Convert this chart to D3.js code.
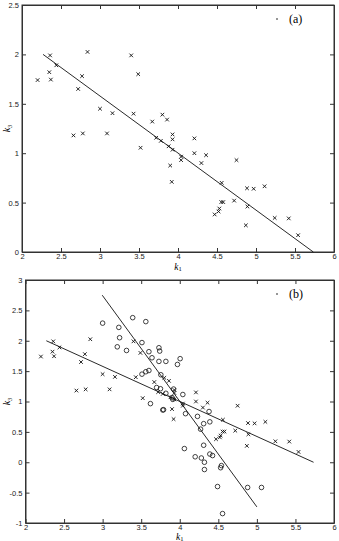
<!DOCTYPE html>
<html>
<head>
<meta charset="utf-8">
<script src="https://cdn.jsdelivr.net/npm/d3@7"></script>
<style>
  body { margin: 0; background: #fff; }
  svg { display: block; }
  .tick text { font-family: "Liberation Sans", Arial, sans-serif; font-size: 7.5px; fill: #222; }
  .lbl { font-family: "Liberation Serif", "DejaVu Serif", serif; font-style: italic; }
  .legend { font-family: "Liberation Serif", "DejaVu Serif", serif; font-size: 12px; }
</style>
</head>
<body>
<div id="chart"></div>
<script>
// crosses: same points appear in both panels
const crossK1 = [2.20, 2.36, 2.35, 2.37, 2.44, 2.77, 2.72, 2.84, 3.40, 3.49,
  3.00, 3.16, 3.43, 3.67, 3.80, 3.86, 2.66, 2.78, 3.09, 3.72,
  3.93, 4.21, 3.52, 3.78, 3.93, 3.88, 3.93, 4.04, 4.04, 4.21,
  4.36, 4.30, 3.90, 3.92, 4.75, 4.56, 4.885, 4.97, 5.11, 4.555,
  4.58, 4.72, 4.89, 4.53, 4.52, 4.47, 4.87, 5.24, 5.42, 5.54];
const crossK3 = [1.74, 1.99, 1.82, 1.745, 1.89, 1.78, 1.65, 2.025, 1.99, 1.80,
  1.45, 1.405, 1.40, 1.32, 1.39, 1.34, 1.18, 1.20, 1.20, 1.156,
  1.19, 1.15, 1.055, 1.125, 1.14, 1.07, 1.035, 0.965, 0.93, 1.00,
  0.98, 0.90, 0.875, 0.71, 0.93, 0.70, 0.645, 0.64, 0.665, 0.505,
  0.505, 0.52, 0.46, 0.44, 0.41, 0.38, 0.27, 0.345, 0.34, 0.17];

// circles: only in panel (b)
const circK1 = [3.00, 3.39, 3.56, 3.21, 3.22, 3.19, 3.31, 3.51, 3.60, 3.73,
  3.74, 3.64, 3.73, 3.82, 4.005, 3.97, 3.51, 3.56, 3.60, 3.755,
  3.70, 3.75, 3.82, 3.92, 4.04, 3.62, 3.90, 3.91, 3.78, 3.79,
  4.075, 4.23, 4.38, 4.39, 4.31, 4.27, 4.31, 4.06, 4.20, 4.28,
  4.39, 4.425, 4.32, 4.32, 4.54, 4.53, 4.49, 4.88, 5.06, 4.555];
const circK3 = [2.29, 2.38, 2.315, 2.22, 2.05, 1.90, 1.84, 1.97, 1.82, 1.885,
  1.83, 1.72, 1.66, 1.66, 1.705, 1.61, 1.45, 1.49, 1.51, 1.44,
  1.23, 1.21, 1.135, 1.205, 1.115, 0.965, 1.065, 1.035, 0.86, 0.865,
  0.80, 0.755, 0.835, 0.665, 0.635, 0.545, 0.28, 0.225, 0.09, 0.07,
  0.135, 0.11, 0.0, -0.12, -0.055, -0.09, -0.40, -0.415, -0.415, -0.845];

// fitted lines (endpoints)
const fitCross = [[2.27, 2.0], [5.735, 0]];
const fitCirc = [[2.995, 2.75], [5.0, -0.735]];

const xTicks = [2, 2.5, 3, 3.5, 4, 4.5, 5, 5.5, 6];
const yTicksA = [0, 0.5, 1, 1.5, 2, 2.5];
const yTicksB = [-1, -0.5, 0, 0.5, 1, 1.5, 2, 2.5, 3];

const W = 339, H = 541;
const svg = d3.select('#chart').append('svg').attr('width', W).attr('height', H);

function panel(box, yDomain, yTicks, name, showCircles) {
  const x = d3.scaleLinear().domain([2, 6]).range([box.left, box.right]);
  const y = d3.scaleLinear().domain(yDomain).range([box.bottom, box.top]);
  const g = svg.append('g');
  const fmt = d => String(d);

  // axes with inward ticks on all four sides
  g.append('g').attr('transform', 'translate(0,' + box.bottom + ')')
    .call(d3.axisBottom(x).tickValues(xTicks).tickSizeInner(-4).tickSizeOuter(0).tickPadding(1.5).tickFormat(fmt));
  g.append('g').attr('transform', 'translate(0,' + box.top + ')')
    .call(d3.axisTop(x).tickValues(xTicks).tickSizeInner(-4).tickSizeOuter(0).tickFormat(''));
  g.append('g').attr('transform', 'translate(' + box.left + ',0)')
    .call(d3.axisLeft(y).tickValues(yTicks).tickSizeInner(-4).tickSizeOuter(0).tickPadding(3).tickFormat(fmt));
  g.append('g').attr('transform', 'translate(' + box.right + ',0)')
    .call(d3.axisRight(y).tickValues(yTicks).tickSizeInner(-4).tickSizeOuter(0).tickFormat(''));
  g.selectAll('.domain').attr('stroke', '#333');
  g.selectAll('.tick line').attr('stroke', '#333');

  g.append('rect')
    .attr('x', box.left).attr('y', box.top)
    .attr('width', box.right - box.left).attr('height', box.bottom - box.top)
    .attr('fill', 'none').attr('stroke', '#333').attr('stroke-width', 1);

  const line = d3.line().x(d => x(d[0])).y(d => y(d[1]));

  // crosses
  const s = 1.8;
  g.append('g').selectAll('path').data(d3.range(crossK1.length)).join('path')
    .attr('d', i => {
      const cx = x(crossK1[i]), cy = y(crossK3[i]);
      return 'M' + (cx - s) + ',' + (cy - s) + 'L' + (cx + s) + ',' + (cy + s) +
        'M' + (cx - s) + ',' + (cy + s) + 'L' + (cx + s) + ',' + (cy - s);
    })
    .attr('stroke', '#111').attr('stroke-width', 0.9).attr('fill', 'none');

  if (showCircles) {
    g.append('g').selectAll('circle').data(d3.range(circK1.length)).join('circle')
      .attr('cx', i => x(circK1[i]))
      .attr('cy', i => y(circK3[i]))
      .attr('r', 2.3)
      .attr('fill', 'none').attr('stroke', '#111').attr('stroke-width', 0.8);
    g.append('path').datum(fitCirc).attr('d', line)
      .attr('stroke', '#111').attr('stroke-width', 0.9).attr('fill', 'none');
  }
  g.append('path').datum(fitCross).attr('d', line)
    .attr('stroke', '#111').attr('stroke-width', 0.9).attr('fill', 'none');

  // legend
  g.append('circle').attr('cx', box.right - 57).attr('cy', box.top + 14).attr('r', 0.8).attr('fill', '#111');
  g.append('text').attr('class', 'legend')
    .attr('x', box.right - 45).attr('y', box.top + 18).text(name);

  // axis labels
  const xl = g.append('text').attr('class', 'lbl')
    .attr('x', (box.left + box.right) / 2).attr('y', box.xLabelY)
    .attr('text-anchor', 'middle').attr('font-size', 9.5);
  xl.append('tspan').text('k');
  xl.append('tspan').attr('font-style', 'normal').attr('font-size', 6.5).attr('dy', 1).text('1');

  const yl = g.append('text').attr('class', 'lbl')
    .attr('transform', 'translate(10,' + ((box.top + box.bottom) / 2) + ') rotate(-90)')
    .attr('text-anchor', 'middle').attr('font-size', 10);
  yl.append('tspan').text('k');
  yl.append('tspan').attr('font-style', 'normal').attr('font-size', 6.5).attr('dy', 1.5).text('3');
}

panel({ left: 22, right: 334, top: 5, bottom: 252, xLabelY: 270 }, [0, 2.5], yTicksA, '(a)', false);
panel({ left: 25.5, right: 334, top: 280, bottom: 523, xLabelY: 539.5 }, [-1, 3], yTicksB, '(b)', true);
</script>
</body>
</html>
